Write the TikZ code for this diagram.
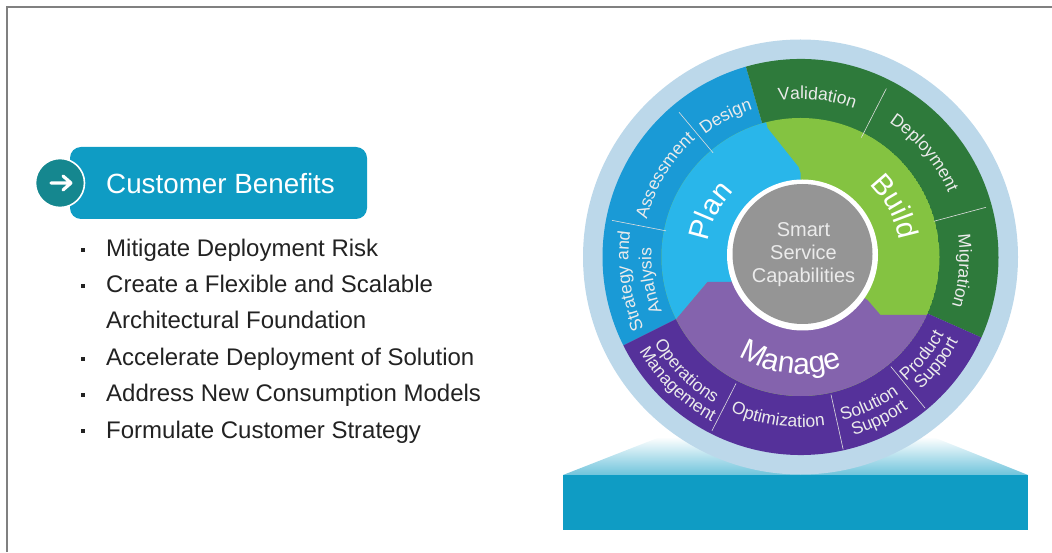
\documentclass[tikz,border=0pt]{standalone}
\usepackage{fontspec}
\setmainfont{Liberation Sans}
\usetikzlibrary{decorations.text}
\definecolor{ringsky}{HTML}{BCD8EA}
\definecolor{planring}{HTML}{1A9AD6}
\definecolor{planfill}{HTML}{29B6EA}
\definecolor{buildring}{HTML}{2E7A3B}
\definecolor{buildfill}{HTML}{84C341}
\definecolor{managering}{HTML}{55319A}
\definecolor{managefill}{HTML}{8463AD}
\definecolor{hubgray}{HTML}{959595}
\definecolor{ciscoblue}{HTML}{0F9CC4}
\definecolor{arrowteal}{HTML}{15878F}
\definecolor{benefitink}{HTML}{222222}
\newcommand{\ringfont}{\color{white!92!black}\fontsize{17.5}{17.5}\selectfont}
\newcommand{\lowfont}{\color{white!92!black}\fontsize{17.5}{17.5}\selectfont\addfontfeature{LetterSpace=2}}
\newcommand{\bigfont}{\color{white}\fontsize{29}{29}\selectfont}
\newcommand{\managefont}{\color{white}\fontsize{30}{30}\selectfont\addfontfeature{LetterSpace=4}}
\tikzset{
  overarc/.style={decorate, decoration={text along path, text align=center, text={#1}}},
  divider/.style={white!75!gray, line width=0.6pt},
  benefit/.style={anchor=base west, inner sep=0pt, text=benefitink, font=\fontsize{24}{24}\selectfont},
  dotmark/.style={fill=benefitink, inner sep=0pt, minimum size=3.4pt}
}
\begin{document}
\begin{tikzpicture}[x=1pt, y=1pt]
    \useasboundingbox (0, 0) rectangle (1052, 552);
    % frame
    \draw [gray, line width=1.4pt] (7, 0) -- (7, 545) -- (1052, 545);
    % left side
    \node [rectangle, rounded corners=11pt, fill=ciscoblue, minimum width=297pt, minimum height=72pt, inner sep=0pt] (title) at (218.5, 369) {};
    \node [circle, fill=arrowteal, draw=white, line width=1.6pt, minimum size=49pt, inner sep=0pt] (arrowdisc) at (60, 369) {};
    \node [anchor=base west, inner sep=0pt, text=white, font=\fontsize{27.8}{27.8}\selectfont] (titletext) at (106, 358) {Customer Benefits};
    \coordinate (shaft) at (51, 369);
    \coordinate (tip) at (71, 369);
    \draw [white, line width=3.2pt, line cap=round, line join=round] (shaft) -- (tip) -- +(-8, 7) (tip) -- +(-8, -7);
    \node [benefit] (risk) at (106, 295) {Mitigate Deployment Risk};
    \node [benefit] (flexible) at (106, 259) {Create a Flexible and Scalable};
    \node [benefit] (foundation) at (106, 223) {Architectural Foundation};
    \node [benefit] (accelerate) at (106, 186) {Accelerate Deployment of Solution};
    \node [benefit] (consumption) at (106, 150) {Address New Consumption Models};
    \node [benefit] (strategy) at (106, 114) {Formulate Customer Strategy};
    \node [dotmark] (dota) at (83, 302) {};
    \node [dotmark] (dotb) at (83, 266) {};
    \node [dotmark] (dotc) at (83, 193) {};
    \node [dotmark] (dotd) at (83, 157) {};
    \node [dotmark] (dote) at (83, 121) {};
    % pedestal
    \shade [top color=white, bottom color=ciscoblue!60] (563, 77) -- (660, 115) -- (933, 115) -- (1028, 77) -- cycle;
    \fill [ciscoblue] (563, 22) rectangle (1028, 77);
    % wheel
    \begin{scope}[shift={(800.5, 295)}]
        \fill [ringsky] (0, 0) circle (217.5);
        \fill [planring] (106:198) arc (106:206.5:198) -- (206.5:138) arc (206.5:106:138) -- cycle;
        \fill [buildring] (106:198) arc (106:-24:198) -- (-24:138) arc (-24:106:138) -- cycle;
        \fill [managering] (206.5:198) arc (206.5:336:198) -- (-24:138) arc (336:206.5:138) -- cycle;
        \begin{scope}
            \clip (0, 0) circle (139);
            \fill [buildfill] (0, 0) circle (139);
            \fill [planfill] (-38, 150) -- (-33, 129) -- (-2, 90) -- (0, 84) -- (0, 0) -- (-70, -25) -- (-93, -25) -- (-125, -63) -- (-160, -80) -- (-160, 150) -- cycle;
            \fill [managefill] (0, 0) -- (-70, -25) -- (-93, -25) -- (-125, -63) -- (-180, -90) -- (-180, -200) -- (180, -200) -- (180, -80) -- (130, -58) -- (80, -58) -- (67, -43) -- cycle;
        \end{scope}
        \draw [divider] (130:136) -- (130:189);
        \draw [divider] (169:137) -- (169:192);
        \draw [divider] (63:134) -- (63:189);
        \draw [divider] (15:138) -- (15:192);
        \draw [divider] (-50.5:142) -- (-50.5:196);
        \draw [divider] (-77.5:141) -- (-77.5:197);
        \draw [divider] (243:142) -- (243:195);
        \fill [white] (2, 2) circle (75.5);
        \fill [hubgray] (2, 3) circle (70);
        \node [align=center, text=white!92!black, font=\fontsize{20}{23}\selectfont] (hub) at (3, 2) {Smart\\Service\\Capabilities};
        % upper labels run clockwise
        \path [overarc={|\ringfont|Validation}] (144:158) arc (144:24:158);
        \path [overarc={|\ringfont|Deployment}] (100:161) arc (100:-20:161);
        \path [overarc={|\ringfont|Migration}] (55:159) arc (55:-65:159);
        \path [overarc={|\ringfont|Design}] (178:155) arc (178:58:155);
        \path [overarc={|\ringfont|Assessment}] (209:158) arc (209:89:158);
        \path [overarc={|\ringfont|Strategy and}] (248:172) arc (248:128:172);
        \path [overarc={|\ringfont|Analysis}] (249:149) arc (249:129:149);
        % lower labels run the other way
        \path [overarc={|\lowfont|Operations}] (165:170) arc (165:285:170);
        \path [overarc={|\lowfont|Management}] (166:187) arc (166:286:187);
        \path [overarc={|\lowfont|Optimization}] (202:170) arc (202:322:170);
        \path [overarc={|\lowfont|Solution}] (235:169) arc (235:355:169);
        \path [overarc={|\lowfont|Support}] (236:186) arc (236:356:186);
        \path [overarc={|\lowfont|Product}] (261:163) arc (261:381:163);
        \path [overarc={|\lowfont|Support}] (262:179) arc (262:382:179);
        % big labels
        \path [overarc={|\bigfont|Plan}] (213:94) arc (213:93:94);
        \path [overarc={|\bigfont|Build}] (88:100) arc (88:-32:100);
        \path [overarc={|\managefont|Manage}] (204.5:117) arc (204.5:324.5:117);
    \end{scope}
\end{tikzpicture}
\end{document}
